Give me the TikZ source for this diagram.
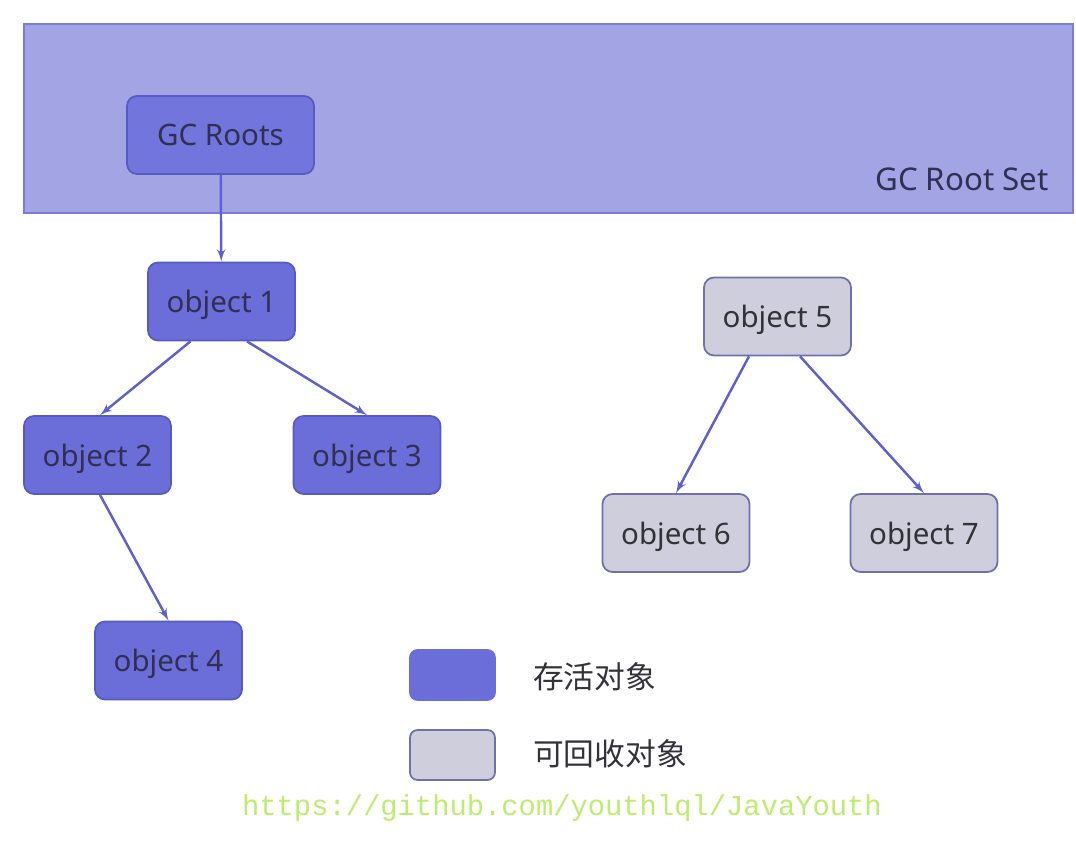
\documentclass[tikz,border=0pt]{standalone}
\usepackage{fontspec}
\setmainfont{Noto Sans}
\newfontfamily\cjk{Noto Sans CJK SC}
\newfontfamily\wmfont{Liberation Mono}
\usetikzlibrary{shapes,arrows}

\definecolor{setfill}{RGB}{163,164,228}
\definecolor{setline}{RGB}{124,126,214}
\definecolor{livefill}{RGB}{107,109,216}
\definecolor{liveline}{RGB}{88,90,196}
\definecolor{rootfill}{RGB}{114,117,220}
\definecolor{deadfill}{RGB}{206,206,220}
\definecolor{deadline}{RGB}{112,112,172}
\definecolor{edge}{RGB}{94,96,208}
\definecolor{livetext}{RGB}{48,48,84}
\definecolor{deadtext}{RGB}{50,50,56}
\definecolor{wmark}{RGB}{190,236,110}

\begin{document}
\begin{tikzpicture}[x=0.02cm, y=-0.02cm, >=latex',
        obj/.style={draw, rounded corners=0.2cm, line width=1pt, minimum width=2.94cm, minimum height=1.56cm, text depth=0pt, font=\fontsize{16.8}{20}\selectfont},
        live/.style={obj, fill=livefill, draw=liveline, text=livetext},
        dead/.style={obj, fill=deadfill, draw=deadline, text=deadtext},
        key/.style={draw, rounded corners=0.15cm, line width=1pt, minimum width=1.7cm, minimum height=1cm},
        link/.style={->, draw=edge, line width=1.4pt}]
        \useasboundingbox (0,0) rectangle (1076,854);
        % root set band
        \draw[fill=setfill, draw=setline, line width=1pt] (24,24) rectangle (1073,213);
        \node[anchor=east, text=livetext, font=\fontsize{17.8}{20}\selectfont] (set) at (1055,179) {GC Root Set};
        \node[live, fill=rootfill, minimum width=3.74cm] (roots) at (220.5,135) {GC Roots};
        % objects
        \node[live] (o1) at (221.5,301.5) {object 1};
        \node[live] (o2) at (97.5,455) {object 2};
        \node[live] (o3) at (367,455) {object 3};
        \node[live] (o4) at (168.5,660.5) {object 4};
        \node[dead] (o5) at (777.5,316.5) {object 5};
        \node[dead] (o6) at (676,533) {object 6};
        \node[dead] (o7) at (924,533) {object 7};
        \draw[link] (roots) -- (o1);
        \draw[link] ([xshift=-0.62cm]o1.south) -- ([xshift=0.05cm]o2.north);
        \draw[link] ([xshift=0.51cm]o1.south) -- (o3.north);
        \draw[link] ([xshift=0.05cm]o2.south) -- (o4.north);
        \draw[link] ([xshift=-0.57cm]o5.south) -- (o6.north);
        \draw[link] ([xshift=0.45cm]o5.south) -- (o7.north);
        % legend
        \node[key, fill=livefill, draw=livefill] (k1) at (452.5,675) {};
        \node[key, fill=deadfill, draw=deadline] (k2) at (452.5,755) {};
        \node[anchor=west, text=deadtext, font=\cjk\fontsize{17.5}{20}\selectfont] (t1) at (527,677) {存活对象};
        \node[anchor=west, text=deadtext, font=\cjk\fontsize{17.5}{20}\selectfont] (t2) at (527,754) {可回收对象};
        \node[text=wmark, font=\wmfont\fontsize{16.4}{20}\selectfont] (wm) at (562,808) {https://github.com/youthlql/JavaYouth};
    \end{tikzpicture}
\end{document}
